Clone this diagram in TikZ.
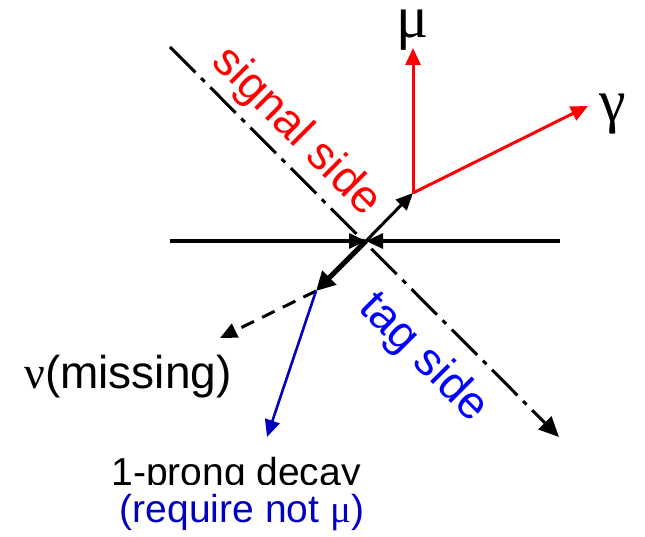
\documentclass[tikz,border=0pt]{standalone}
\usepackage{fontspec}
\setmainfont{Liberation Sans}
\newfontfamily\greekfont{Liberation Serif}
\usetikzlibrary{arrows.meta}
\begin{document}
\begin{tikzpicture}[x=1pt,y=-1pt,
	lbl/.style={font=\fontsize{46}{54}\selectfont},
	big/.style={font=\fontsize{60}{68}\selectfont\greekfont},
	tip/.style={-{Triangle[length=17pt,width=15pt]}},
	dashdot/.style={dash pattern=on 36pt off 8pt on 5pt off 8pt}]
\definecolor{sigred}{RGB}{255,0,0}
\definecolor{tagblue}{RGB}{0,0,255}
\definecolor{prongblue}{RGB}{0,0,190}
	\useasboundingbox (0,0) rectangle (645,537);
	% points
	\coordinate (O) at (366,241);
	\coordinate (hl) at (170,241);
	\coordinate (hr) at (560,241);
	\coordinate (a) at (170,47);
	\coordinate (b) at (559,437);
	\coordinate (S) at (413,193);
	\coordinate (T) at (316,291);
	\coordinate (mutip) at (413,48);
	\coordinate (gamtip) at (588,106);
	\coordinate (nutip) at (220,338);
	\coordinate (prongtip) at (267,437);
	% beam axis
	\draw[tip,line width=3.2pt] (hl) -- (O);
	\draw[tip,line width=3.2pt] (hr) -- (O);
	% dividing line
	\draw[dashdot,line width=3pt,-{Triangle[length=20pt,width=18pt]}] (a) -- (b);
	% signal side
	\draw[tip,line width=3pt] (O) -- (S);
	\draw[tip,sigred,line width=3pt] (S) -- (mutip);
	\draw[tip,sigred,line width=3pt] (S) -- (gamtip);
	\node[big,anchor=base,inner sep=0pt] (mu) at (413,38) {μ};
	\node[big,anchor=base,inner sep=0pt] (gam) at (613,122) {γ};
	\node[lbl,sigred,rotate=-45] (sig) at (296,132) {signal side};
	% tag side
	\draw[line width=5pt,-{Triangle[length=19pt,width=19pt]}] (O) -- (T);
	\draw[tip,dash pattern=on 14pt off 9pt,line width=3pt] (T) -- (nutip);
	\draw[tip,prongblue,line width=2.6pt] (T) -- (prongtip);
	\node[lbl,tagblue,rotate=-45] (tag) at (423,358) {tag side};
	\node[font=\fontsize{46}{54}\selectfont,anchor=base] (nu) at (128,388) {{\greekfont ν}(missing)};
	\node[font=\fontsize{39}{46}\selectfont,anchor=base] (prong) at (236,485) {1-prong decay};
	\node[font=\fontsize{39}{46}\selectfont,anchor=base,prongblue,fill=white,inner xsep=2pt,inner ysep=9pt] (req) at (242,522) {(require not {\greekfont μ})};
\end{tikzpicture}
\end{document}
